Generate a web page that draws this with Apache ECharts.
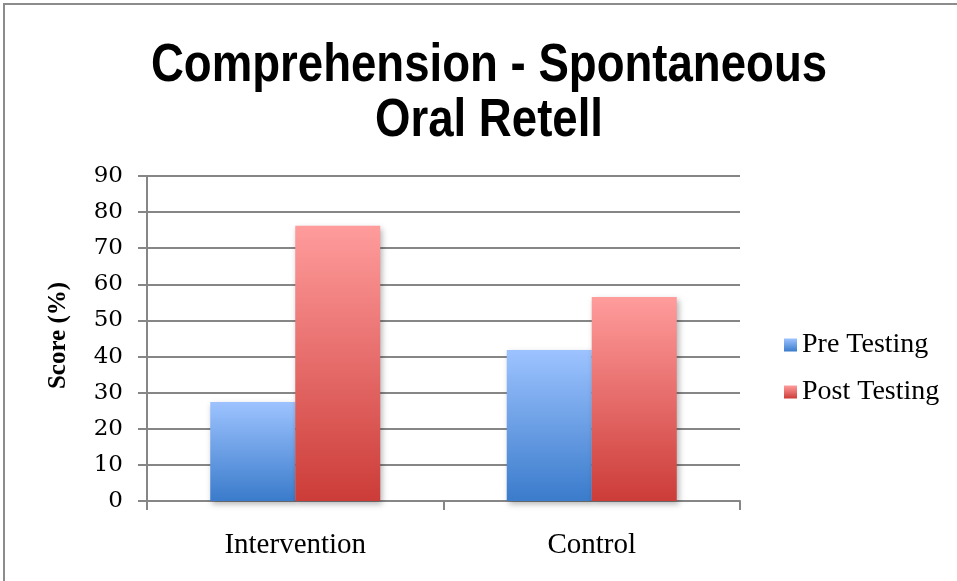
<!DOCTYPE html>
<html>
<head>
<meta charset="utf-8" />
<title>Comprehension - Spontaneous Oral Retell</title>
<style>
  html, body { margin: 0; padding: 0; background: #fff; }
  #main { width: 957px; height: 581px; }
</style>
</head>
<body>
<script src="https://cdn.jsdelivr.net/npm/echarts@6/dist/echarts.min.js"></script>
<div id="main"></div>
<script>
var categories = ["Intervention", "Control"];
var preTesting = [27.4, 41.8];
var postTesting = [76.2, 56.5];
var yTicks = [0, 10, 20, 30, 40, 50, 60, 70, 80, 90];

function grad(top, bottom) {
  return new echarts.graphic.LinearGradient(0, 0, 0, 1, [
    { offset: 0, color: top },
    { offset: 1, color: bottom }
  ]);
}

var chart = echarts.init(document.getElementById("main"));
var serif = "Liberation Serif";

chart.setOption({
  backgroundColor: "#fff",
  animation: false,
  graphic: [
    {
      type: "rect",
      shape: { x: 4, y: 4, width: 1000, height: 1000 },
      style: { fill: "none", stroke: "#8c8c8c", lineWidth: 2 }
    },
    {
      // chart title, condensed bold
      type: "text",
      x: 489,
      y: 94,
      scaleX: 0.86,
      style: {
        text: "Comprehension - Spontaneous\nOral Retell",
        font: "bold 53px 'Liberation Sans'",
        fill: "#000",
        align: "center",
        verticalAlign: "middle",
        lineHeight: 55
      }
    }
  ],
  legend: {
    orient: "vertical",
    left: 779,
    top: 326,
    itemWidth: 13,
    itemHeight: 13,
    itemGap: 19,
    icon: "rect",
    textStyle: { fontFamily: serif, fontSize: 28, color: "#000" },
    data: ["Pre Testing", "Post Testing"]
  },
  grid: { left: 147, right: 217, top: 176, bottom: 80 },
  xAxis: {
    type: "category",
    data: categories,
    axisLine: { lineStyle: { color: "#868686", width: 2 } },
    axisTick: { show: true, length: 9, lineStyle: { color: "#868686", width: 2 } },
    axisLabel: { fontFamily: serif, fontSize: 29, color: "#000", margin: 30 }
  },
  yAxis: {
    type: "value",
    min: 0,
    max: 90,
    interval: 10,
    name: "Score (%)",
    nameLocation: "middle",
    nameGap: 76,
    nameTextStyle: { fontFamily: serif, fontWeight: "bold", fontSize: 25, color: "#000", padding: [0, 0, 0, 6] },
    axisLine: { show: true, lineStyle: { color: "#868686", width: 2 } },
    axisTick: { show: true, length: 9, lineStyle: { color: "#868686", width: 2 } },
    axisLabel: {
      fontFamily: "DejaVu Serif", fontSize: 23, color: "#000", margin: 24,
      formatter: function (v) { return yTicks.indexOf(v) >= 0 ? String(v) : ""; }
    },
    splitLine: { lineStyle: { color: "#868686", width: 2 } }
  },
  series: [
    {
      name: "Pre Testing",
      type: "bar",
      data: preTesting,
      barWidth: 85,
      barGap: "0%",
      itemStyle: {
        color: grad("#9dc3ff", "#3a7bcb"),
        shadowColor: "rgba(0,0,0,0.3)",
        shadowBlur: 6,
        shadowOffsetX: 2,
        shadowOffsetY: 3
      }
    },
    {
      name: "Post Testing",
      type: "bar",
      data: postTesting,
      barWidth: 85,
      barGap: "0%",
      itemStyle: {
        color: grad("#ff9c9c", "#cc3c38"),
        shadowColor: "rgba(0,0,0,0.3)",
        shadowBlur: 6,
        shadowOffsetX: 2,
        shadowOffsetY: 3
      }
    }
  ]
});
</script>
</body>
</html>
